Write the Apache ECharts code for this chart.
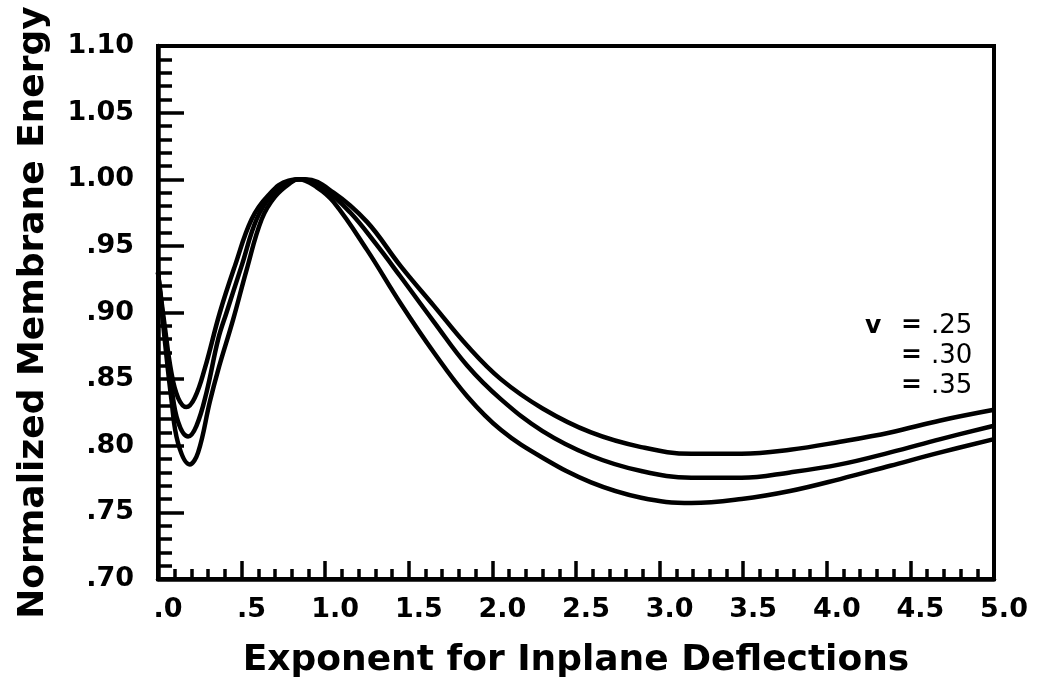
<!DOCTYPE html>
<html>
<head>
<meta charset="utf-8">
<script src="https://cdn.jsdelivr.net/npm/echarts@6/dist/echarts.min.js"></script>
<style>
html,body{margin:0;padding:0;background:#fff;}
#chart{width:1037px;height:684px;}
</style>
</head>
<body>
<div id="chart"></div>
<script>
// Tick labels
var xTickLabels = ['.0', '.5', '1.0', '1.5', '2.0', '2.5', '3.0', '3.5', '4.0', '4.5', '5.0'];
var yTickLabels = ['.70', '.75', '.80', '.85', '.90', '.95', '1.00', '1.05', '1.10'];

// Series names (Poisson's ratio)
var seriesNames = ['v = .25', 'v = .30', 'v = .35'];

// v = .25 (upper curve)
var x25 = [0.00, 0.04, 0.08, 0.12, 0.17, 0.22, 0.28, 0.37, 0.46, 0.56, 0.66, 0.78, 0.88, 1.05, 1.25, 1.45, 1.65, 1.85, 2.05, 2.30, 2.59, 2.89, 3.19, 3.49, 3.78, 4.08, 4.38, 4.68, 5.00];
var y25 = [0.930, 0.890, 0.855, 0.836, 0.829, 0.836, 0.858, 0.900, 0.935, 0.970, 0.988, 0.999, 1.000, 0.990, 0.968, 0.935, 0.905, 0.875, 0.850, 0.828, 0.810, 0.799, 0.794, 0.794, 0.797, 0.803, 0.810, 0.819, 0.827];

// v = .30 (middle curve)
var x30 = [0.00, 0.04, 0.08, 0.12, 0.18, 0.23, 0.29, 0.36, 0.41, 0.50, 0.59, 0.68, 0.80, 0.86, 1.00, 1.15, 1.30, 1.45, 1.65, 1.85, 2.05, 2.30, 2.59, 2.89, 3.19, 3.49, 3.78, 4.08, 4.38, 4.68, 5.00];
var y30 = [0.930, 0.885, 0.845, 0.818, 0.807, 0.815, 0.840, 0.880, 0.900, 0.935, 0.970, 0.988, 0.999, 1.000, 0.992, 0.975, 0.952, 0.927, 0.893, 0.860, 0.835, 0.811, 0.7925, 0.781, 0.776, 0.776, 0.780, 0.786, 0.795, 0.805, 0.815];

// v = .35 (lower curve)
var x35 = [0.00, 0.04, 0.08, 0.12, 0.19, 0.24, 0.31, 0.36, 0.45, 0.53, 0.62, 0.70, 0.80, 0.84, 0.95, 1.05, 1.25, 1.45, 1.65, 1.85, 2.05, 2.30, 2.59, 2.89, 3.19, 3.49, 3.78, 4.08, 4.38, 4.68, 5.00];
var y35 = [0.930, 0.880, 0.835, 0.802, 0.786, 0.795, 0.833, 0.857, 0.895, 0.932, 0.970, 0.987, 0.998, 1.000, 0.994, 0.983, 0.947, 0.907, 0.870, 0.837, 0.812, 0.791, 0.7725, 0.761, 0.757, 0.760, 0.766, 0.775, 0.785, 0.795, 0.805];

function pairs(xs, ys) {
  var out = [];
  for (var i = 0; i < xs.length; i++) out.push([xs[i], ys[i]]);
  return out;
}

var chart = echarts.init(document.getElementById('chart'), null, {renderer: 'canvas'});
var black = '#000';
var lineStyleCurve = {color: black, width: 4.5};

function curve(name, xs, ys) {
  return {
    name: name,
    type: 'line',
    data: pairs(xs, ys),
    smooth: 0.4,
    showSymbol: false,
    symbol: 'none',
    lineStyle: lineStyleCurve,
    itemStyle: {color: black},
    animation: false
  };
}

var option = {
  backgroundColor: '#fff',
  animation: false,
  grid: {
    left: 158, right: 43, top: 46, bottom: 104,
    show: true, borderColor: black, borderWidth: 4, backgroundColor: 'transparent'
  },
  xAxis: {
    type: 'value',
    min: 0, max: 5, interval: 0.5,
    name: 'Exponent for Inplane Deflections',
    nameLocation: 'middle',
    nameGap: 64,
    nameTextStyle: {fontFamily: 'DejaVu Sans', fontWeight: 'bold', fontSize: 36, color: black},
    axisLine: {show: true, lineStyle: {color: black, width: 4.5}},
    axisTick: {show: true, inside: true, length: 18, lineStyle: {color: black, width: 3.5}},
    minorTick: {show: true, splitNumber: 5, length: 10, lineStyle: {color: black, width: 3.5}},
    splitLine: {show: false},
    minorSplitLine: {show: false},
    axisLabel: {
      margin: 17,
      padding: [0, 0, 0, 20],
      fontFamily: 'DejaVu Sans', fontWeight: 'bold', fontSize: 27, color: black,
      formatter: function (v) { return xTickLabels[Math.round(v / 0.5)]; }
    }
  },
  yAxis: {
    type: 'value',
    min: 0.70, max: 1.10, interval: 0.05,
    name: 'Normalized Membrane Energy',
    nameLocation: 'middle',
    nameGap: 106,
    nameRotate: 90,
    nameTextStyle: {fontFamily: 'DejaVu Sans', fontWeight: 'bold', fontSize: 36, color: black},
    axisLine: {show: true, lineStyle: {color: black, width: 4.5}},
    axisTick: {show: true, inside: true, length: 26, lineStyle: {color: black, width: 3.5}},
    minorTick: {show: true, splitNumber: 5, length: 14, lineStyle: {color: black, width: 3.5}},
    splitLine: {show: false},
    minorSplitLine: {show: false},
    axisLabel: {
      margin: 24,
      fontFamily: 'DejaVu Sans', fontWeight: 'bold', fontSize: 27, color: black,
      formatter: function (v) { return yTickLabels[Math.round((v - 0.70) / 0.05)]; }
    }
  },
  graphic: [
    {type: 'text', left: 865, top: 314, style: {text: 'v', fontFamily: 'DejaVu Sans', fontWeight: 'bold', fontSize: 25, fill: black}},
    {type: 'text', left: 901, top: 313, style: {text: '=', fontFamily: 'DejaVu Sans', fontWeight: 'bold', fontSize: 25, fill: black}},
    {type: 'text', left: 901, top: 343, style: {text: '=', fontFamily: 'DejaVu Sans', fontWeight: 'bold', fontSize: 25, fill: black}},
    {type: 'text', left: 901, top: 373, style: {text: '=', fontFamily: 'DejaVu Sans', fontWeight: 'bold', fontSize: 25, fill: black}},
    {type: 'text', left: 931, top: 313, style: {text: '.25', fontFamily: 'DejaVu Sans', fontSize: 26, fill: black}},
    {type: 'text', left: 931, top: 343, style: {text: '.30', fontFamily: 'DejaVu Sans', fontSize: 26, fill: black}},
    {type: 'text', left: 931, top: 373, style: {text: '.35', fontFamily: 'DejaVu Sans', fontSize: 26, fill: black}}
  ],
  series: [
    curve(seriesNames[0], x25, y25),
    curve(seriesNames[1], x30, y30),
    curve(seriesNames[2], x35, y35)
  ]
};
chart.setOption(option);
</script>
</body>
</html>
